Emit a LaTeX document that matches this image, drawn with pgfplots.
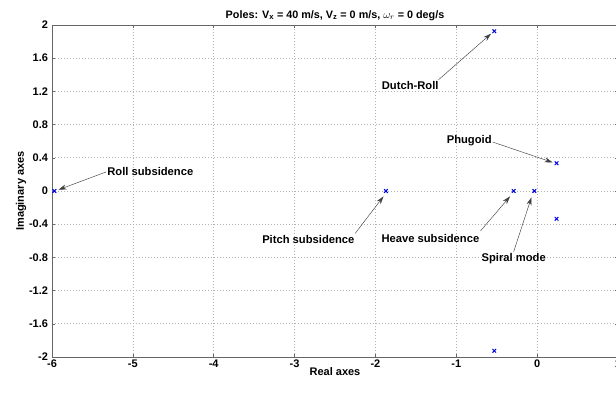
\documentclass[border=0pt]{standalone}
\usepackage{pgfplots}
\pgfplotsset{compat=1.18}
\usepackage{fontspec}
\setmainfont{Liberation Sans}
\usetikzlibrary{arrows.meta}

\begin{document}
\begin{tikzpicture}[x=1pt,y=1pt]
\useasboundingbox (0,0) rectangle (616,392);
\begin{axis}[
  at={(52pt,35pt)}, anchor=south west,
  scale only axis,
  width=566pt, height=332pt,
  xmin=-6, xmax=1, ymin=-2, ymax=2,
  xtick={-6,-5,-4,-3,-2,-1,0,1},
  xticklabels={-6,-5,-4,-3,-2,-1,0,1},
  ytick={-2,-1.6,-1.2,-0.8,-0.4,0,0.4,0.8,1.2,1.6,2},
  yticklabels={-2,-1.6,-1.2,-0.8,-0.4,0,0.4,0.8,1.2,1.6,2},
  tick align=inside,
  major tick length=3pt,
  tick style={gray!80!black, line width=0.5pt},
  axis line style={gray!80!black, line width=0.6pt},
  grid=major,
  major grid style={gray!60, dash pattern=on 0.8pt off 2.2pt, line width=0.7pt},
  ticklabel style={font=\fontsize{11}{13}\selectfont\bfseries},
  xticklabel style={yshift=1pt},
  yticklabel style={xshift=-0.5pt},
  title={Poles: V$_{\mathbf{x}}$ = 40 m/s, V$_{\mathbf{z}}$ = 0 m/s, $\omega_r$ = 0 deg/s},
  title style={font=\fontsize{10.8}{13}\selectfont\bfseries, yshift=-5pt},
  xlabel={Real axes},
  ylabel={Imaginary axes},
  label style={font=\fontsize{11}{13}\selectfont\bfseries},
  xlabel style={yshift=7pt},
  ylabel style={yshift=-4pt},
  clip=false,
]
% closed-loop poles
\addplot[only marks, mark=x, mark size=2.6pt, color=blue!90!black, line width=1pt]
  table {
  x      y
  -5.97  0
  -1.87  0
  -0.29  0
  -0.035 0
   0.24  0.335
   0.24 -0.335
  -0.53  1.925
  -0.53 -1.925
  };

% mode annotations
\tikzset{modearrow/.style={-{Stealth[length=8pt,width=5pt]}, line width=0.45pt, black!75},
         modelabel/.style={font=\fontsize{11.2}{13}\selectfont\bfseries, inner sep=1pt}}
\draw[modearrow] (axis cs:-5.33,0.23) -- (axis cs:-5.92,0.015);
\node[modelabel, anchor=west] at (axis cs:-5.33,0.23) {Roll subsidence};

\draw[modearrow] (axis cs:-1.22,1.34) -- (axis cs:-0.57,1.895);
\node[modelabel] at (axis cs:-1.57,1.27) {Dutch-Roll};

\draw[modearrow] (axis cs:-0.55,0.59) -- (axis cs:0.19,0.345);
\node[modelabel] at (axis cs:-0.84,0.61) {Phugoid};

\draw[modearrow] (axis cs:-2.25,-0.51) -- (axis cs:-1.90,-0.065);
\node[modelabel] at (axis cs:-2.83,-0.59) {Pitch subsidence};

\draw[modearrow] (axis cs:-0.70,-0.48) -- (axis cs:-0.335,-0.065);
\node[modelabel] at (axis cs:-1.32,-0.57) {Heave subsidence};

\draw[modearrow] (axis cs:-0.29,-0.73) -- (axis cs:-0.07,-0.075);
\node[modelabel] at (axis cs:-0.29,-0.82) {Spiral mode};
\end{axis}
\end{tikzpicture}
\end{document}
